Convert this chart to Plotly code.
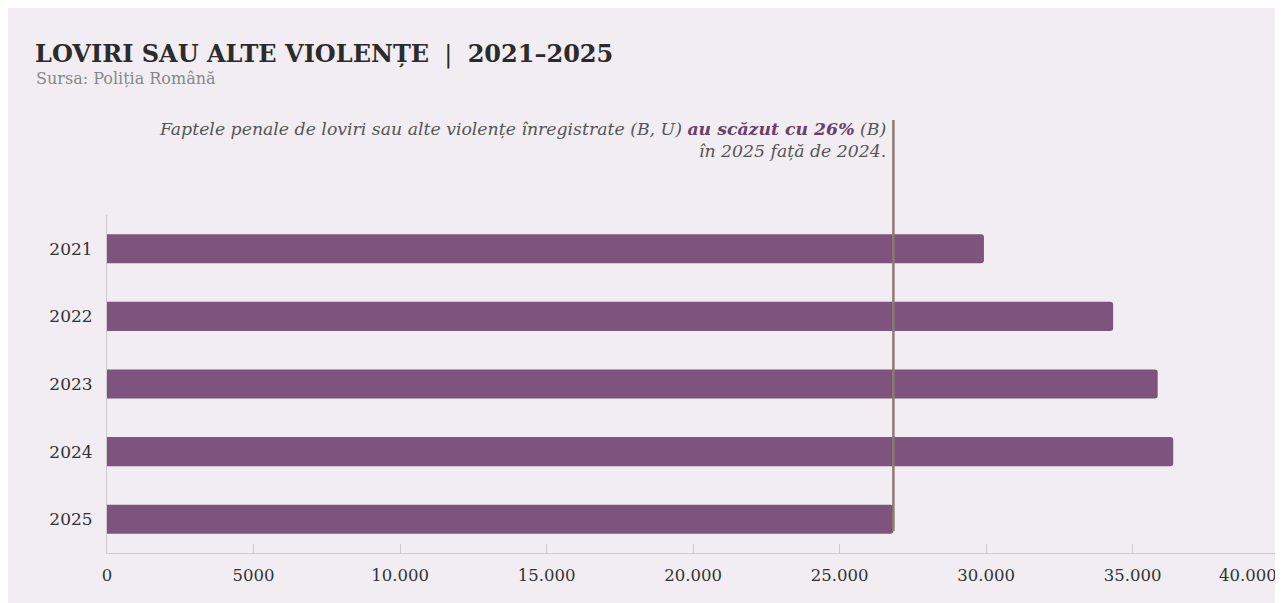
import plotly.graph_objects as go

years = ["2021", "2022", "2023", "2024", "2025"]
values = [29930, 34340, 35860, 36390, 26840]
tick_vals = [0, 5000, 10000, 15000, 20000, 25000, 30000, 35000, 40000]
tick_text = ["0", "5000", "10.000", "15.000", "20.000", "25.000", "30.000", "35.000", ""]
last_tick_label = "40.000"

OFF = 8  # page body margin
W, H = 1283 - OFF, 603 - OFF
L, R, T, B = 107 - OFF, 4, 215 - OFF, 50
pw, ph = W - L - R, H - T - B

def px(x):
    return (x - OFF - L) / pw

def py(y):
    return (H - B - (y - OFF)) / ph

SERIF = "DejaVu Serif, serif"
BG = "#f1edf2"
BAR = "#7e537d"
AX = "#cfcad2"

fig = go.Figure()
fig.add_trace(go.Bar(
    y=years, x=values, orientation="h",
    marker=dict(color=BAR, line=dict(width=0)),
    width=0.43, hoverinfo="skip",
))

fig.update_layout(
    width=W, height=H,
    margin=dict(l=L, r=R, t=T, b=B, pad=0),
    paper_bgcolor=BG,
    plot_bgcolor=BG,
    showlegend=False,
    barcornerradius=3,
    font=dict(family=SERIF, color="#333333"),
    xaxis=dict(
        range=[0, 40000], tickvals=tick_vals, ticktext=tick_text,
        showgrid=False, zeroline=False, showline=True, linecolor=AX, linewidth=1,
        ticks="inside", ticklen=9, tickcolor=AX, ticklabelstandoff=7,
        tickfont=dict(size=16.5, color="#333333", family=SERIF),
    ),
    yaxis=dict(
        autorange="reversed", showgrid=False, zeroline=False,
        showline=True, linecolor=AX, linewidth=1,
        ticks="", ticklabelstandoff=10,
        tickfont=dict(size=17, color="#333333", family=SERIF),
    ),
    shapes=[
        dict(type="line", xref="x", yref="paper",
             x0=values[-1], x1=values[-1], y0=py(531), y1=py(120),
             line=dict(color="#8c7b70", width=2.5)),
    ],
    annotations=[
        dict(xref="x", yref="paper", x=tick_vals[-1], y=py(564), xanchor="right", yanchor="top",
             showarrow=False, text=last_tick_label,
             font=dict(size=16.5, color="#333333", family=SERIF)),
        dict(xref="paper", yref="paper", x=px(33), y=py(37), xanchor="left", yanchor="top",
             showarrow=False, align="left",
             text="<b>LOVIRI SAU ALTE VIOLENȚE</b>\u00a0\u00a0|\u00a0\u00a0<b>2021–2025</b>",
             font=dict(size=24, color="#2b2b2b", family=SERIF)),
        dict(xref="paper", yref="paper", x=px(34), y=py(67), xanchor="left", yanchor="top",
             showarrow=False, align="left", text="Sursa: Poliția Română",
             font=dict(size=16, color="#888888", family=SERIF)),
        dict(xref="paper", yref="paper", x=px(888), y=py(117), xanchor="right", yanchor="top",
             showarrow=False, align="right",
             text=("<i>Faptele penale de loviri sau alte violențe înregistrate (B, U) "
                   "<b><span style='color:#6a3f6a'>au scăzut cu 26%</span></b> (B)<br>"
                   "în 2025 față de 2024.</i>"),
             font=dict(size=17.3, color="#555555", family=SERIF)),
    ],
)

fig.write_html("out.html")
